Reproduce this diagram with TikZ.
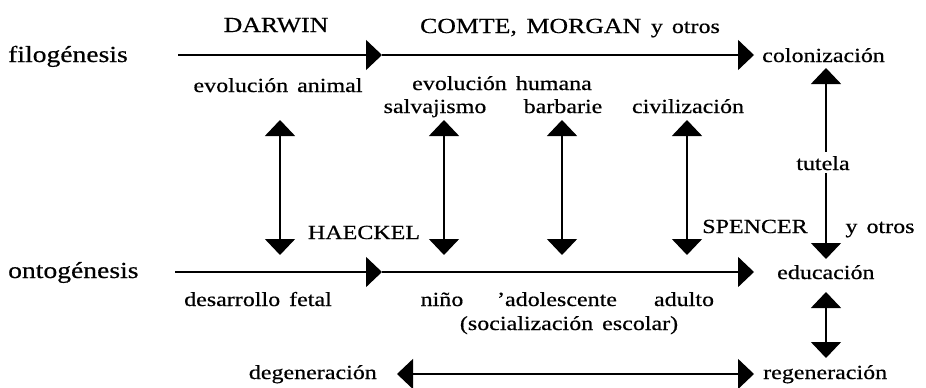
\documentclass[tikz,border=0pt]{standalone}
\usepackage{fontspec}
\setmainfont{Liberation Serif}[FakeStretch=1.2,WordSpace=1.5,FakeBold=0.6]
\usetikzlibrary{arrows.meta}
\tikzset{
  tri/.tip={Triangle[length=16pt,width=30pt]},
  conn/.style={line width=1.6pt},
  lbl/.style={inner sep=0pt, anchor=base, font=\fontsize{20}{24}\selectfont},
  big/.style={inner sep=0pt, anchor=base west, font=\fontsize{23}{27}\selectfont},
  capa/.style={inner sep=0pt, anchor=base, font=\fontsize{21.5}{25}\selectfont},
  capb/.style={inner sep=0pt, anchor=base, font=\fontsize{20}{24}\selectfont},
}
\begin{document}
\begin{tikzpicture}[x=1pt,y=-1pt]
\useasboundingbox (0,0) rectangle (926,388);
% ---- phylogeny row
\node[big] (filo) at (8,62) {filogénesis};
\node[capa] (darwin) at (276,32) {DARWIN};
\node[capa] (comte) at (570,33) {COMTE, MORGAN {\fontsize{20}{24}\selectfont y otros}};
\node[lbl, anchor=base west] (colon) at (762,62) {colonización};
\coordinate (f0) at (178,55);
\coordinate (f1) at (382,55);
\coordinate (f2) at (754,55);
\draw[conn,-tri] (f0) -- (f1);
\draw[conn,-tri] (f1) -- (f2);
\node[lbl] (evanim) at (278,92) {evolución animal};
\node[lbl] (evhum) at (502,90) {evolución humana};
\node[lbl] (salv) at (435,113) {salvajismo};
\node[lbl] (barb) at (563,113) {barbarie};
\node[lbl] (civ) at (688,113) {civilización};
% ---- vertical correspondences
\coordinate (v1a) at (280,120); \coordinate (v1b) at (280,255);
\coordinate (v2a) at (444,120); \coordinate (v2b) at (444,255);
\coordinate (v3a) at (562,120); \coordinate (v3b) at (562,255);
\coordinate (v4a) at (687,120); \coordinate (v4b) at (687,255);
\draw[conn,tri-tri] (v1a) -- (v1b);
\draw[conn,tri-tri] (v2a) -- (v2b);
\draw[conn,tri-tri] (v3a) -- (v3b);
\draw[conn,tri-tri] (v4a) -- (v4b);
% ---- tutela
\coordinate (ta) at (826,68);
\coordinate (tb) at (826,259);
\node[lbl] (tut) at (823,170) {tutela};
\draw[conn,-tri,shorten <=4pt] (tut.north -| ta) -- (ta);
\draw[conn,-tri,shorten <=3pt] (tut.south -| tb) -- (tb);
\node[capb] (haeckel) at (364,239) {HAECKEL};
\node[capb] (spencer) at (755,233) {SPENCER};
\node[lbl] (yotros) at (880,233) {y otros};
% ---- ontogeny row
\node[big] (onto) at (8,278) {ontogénesis};
\coordinate (o0) at (175,272);
\coordinate (o1) at (382,272);
\coordinate (o2) at (754,272);
\draw[conn,-tri] (o0) -- (o1);
\draw[conn,-tri] (o1) -- (o2);
\node[lbl, anchor=base west] (educ) at (777,279) {educación};
\node[lbl] (desa) at (258,306) {desarrollo fetal};
\node[lbl] (nino) at (442,306) {niño};
\node[lbl] (adol) at (557,306) {'adolescente};
\node[lbl] (adul) at (684,306) {adulto};
\node[lbl] (socz) at (569,330) {(socialización escolar)};
% ---- education / regeneration
\coordinate (e0) at (826,292);
\coordinate (e1) at (826,358);
\draw[conn,tri-tri] (e0) -- (e1);
\node[lbl, anchor=base east] (degen) at (377,379) {degeneración};
\node[lbl, anchor=base west] (regen) at (763,379) {regeneración};
\coordinate (d0) at (397,374);
\coordinate (d1) at (754,374);
\draw[conn,tri-tri] (d0) -- (d1);
\end{tikzpicture}
\end{document}
